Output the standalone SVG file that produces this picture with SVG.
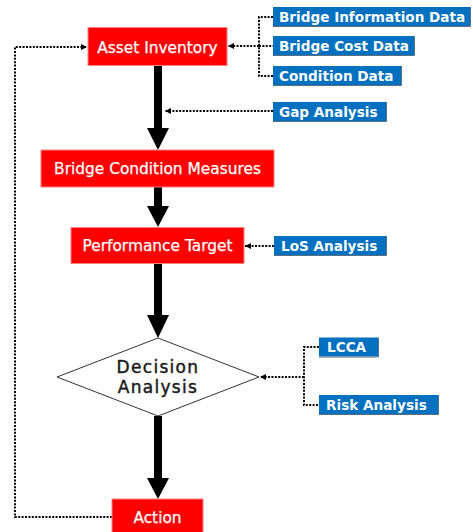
<svg xmlns="http://www.w3.org/2000/svg" width="473" height="532" viewBox="0 0 473 532">
  <style>
    .red { fill: #ff0000; stroke: #ff8080; stroke-width: 1; }
    .blue { fill: #0070c0; }
    .shade { fill: none; stroke: #5a6f80; stroke-width: 1; }
    .rt { font-family: "DejaVu Sans", Verdana, sans-serif; font-size: 15.4px; fill: #ffffff; stroke: #ffffff; stroke-width: 0.25; text-anchor: middle; }
    .bt { font-family: "DejaVu Sans", Verdana, sans-serif; font-size: 13.6px; font-weight: bold; fill: #ffffff; }
    .dt { font-family: "DejaVu Sans", Verdana, sans-serif; font-size: 17px; letter-spacing: 1.3px; fill: #1a1a1a; stroke: #1a1a1a; stroke-width: 0.45; text-anchor: middle; }
    .dot { fill: none; stroke: #000000; stroke-width: 2; stroke-dasharray: 2 1.4; }
    .stem { fill: #000000; }
  </style>
  <defs>
    <marker id="small" viewBox="0 0 6 6" refX="6" refY="3" markerWidth="6" markerHeight="6" markerUnits="userSpaceOnUse" orient="auto">
      <path d="M0,0 L6,3 L0,6 Z" fill="#000000"/>
    </marker>
  </defs>

  <!-- connectors -->
  <g id="connectors">
    <!-- main flow: thick arrows -->
    <rect class="stem" x="154" y="65" width="8" height="64"/>
    <path class="stem" d="M147,128 L169,128 L158,150 Z"/>
    <rect class="stem" x="154" y="187" width="8" height="20"/>
    <path class="stem" d="M147,206 L169,206 L158,227 Z"/>
    <rect class="stem" x="154" y="263" width="8" height="53"/>
    <path class="stem" d="M147,315 L169,315 L158,338 Z"/>
    <rect class="stem" x="154" y="416" width="8" height="63"/>
    <path class="stem" d="M147,478 L169,478 L158,499 Z"/>

    <!-- feedback loop from Action back to Asset Inventory -->
    <path class="dot" d="M112,517 H15 V47 H87" marker-end="url(#small)"/>

    <!-- data inputs into Asset Inventory -->
    <path class="dot" d="M273,17 H259 V76 H273"/>
    <path class="dot" d="M259,46 H273"/>
    <path class="dot" d="M259,46 H228" marker-end="url(#small)"/>

    <!-- gap analysis -->
    <path class="dot" d="M273,111 H165" marker-end="url(#small)"/>

    <!-- LoS analysis -->
    <path class="dot" d="M274,246 H245" marker-end="url(#small)"/>

    <!-- LCCA and risk analysis into decision -->
    <path class="dot" d="M319,347 H304 V405 H319"/>
    <path class="dot" d="M304,377 H260" marker-end="url(#small)"/>
  </g>

  <!-- red process nodes -->
  <g id="asset-inventory">
    <rect class="red" x="88" y="27.5" width="139" height="38"/>
    <text class="rt" x="157.5" y="52.5">Asset Inventory</text>
  </g>
  <g id="bridge-condition-measures">
    <rect class="red" x="41" y="150" width="233" height="37"/>
    <text class="rt" x="157.5" y="174">Bridge Condition Measures</text>
  </g>
  <g id="performance-target">
    <rect class="red" x="71" y="227.5" width="173" height="36"/>
    <text class="rt" x="157.5" y="251">Performance Target</text>
  </g>
  <g id="decision-analysis">
    <path d="M57,377 L158,338 L259,377 L158,416 Z" fill="#ffffff" stroke="#333333" stroke-width="1"/>
    <text class="dt" x="158" y="373">Decision</text>
    <text class="dt" x="158" y="393">Analysis</text>
  </g>
  <g id="action">
    <rect class="red" x="112" y="499" width="91" height="40"/>
    <text class="rt" x="157.5" y="523">Action</text>
  </g>

  <!-- blue input nodes -->
  <g id="bridge-information-data">
    <rect class="blue" x="273" y="7" width="197" height="19"/>
    <path class="shade" d="M273,26.5 H470.5 V7"/>
    <text class="bt" x="279" y="21.8">Bridge Information Data</text>
  </g>
  <g id="bridge-cost-data">
    <rect class="blue" x="273" y="36" width="141" height="19"/>
    <path class="shade" d="M273,55.5 H414.5 V36"/>
    <text class="bt" x="279" y="50.8">Bridge Cost Data</text>
  </g>
  <g id="condition-data">
    <rect class="blue" x="273" y="66" width="128" height="19"/>
    <path class="shade" d="M273,85.5 H401.5 V66"/>
    <text class="bt" x="279" y="80.8">Condition Data</text>
  </g>
  <g id="gap-analysis">
    <rect class="blue" x="273" y="102" width="113" height="19"/>
    <path class="shade" d="M273,121.5 H386.5 V102"/>
    <text class="bt" x="279" y="116.8">Gap Analysis</text>
  </g>
  <g id="los-analysis">
    <rect class="blue" x="274" y="236" width="112" height="19"/>
    <path class="shade" d="M274,255.5 H386.5 V236"/>
    <text class="bt" x="281" y="250.8">LoS Analysis</text>
  </g>
  <g id="lcca">
    <rect class="blue" x="319" y="337.5" width="59" height="19"/>
    <path class="shade" d="M319,357 H378.5 V337.5"/>
    <text class="bt" x="327" y="352.3">LCCA</text>
  </g>
  <g id="risk-analysis">
    <rect class="blue" x="319" y="395" width="119" height="19"/>
    <path class="shade" d="M319,414.5 H438.5 V395"/>
    <text class="bt" x="326" y="409.8">Risk Analysis</text>
  </g>
</svg>
